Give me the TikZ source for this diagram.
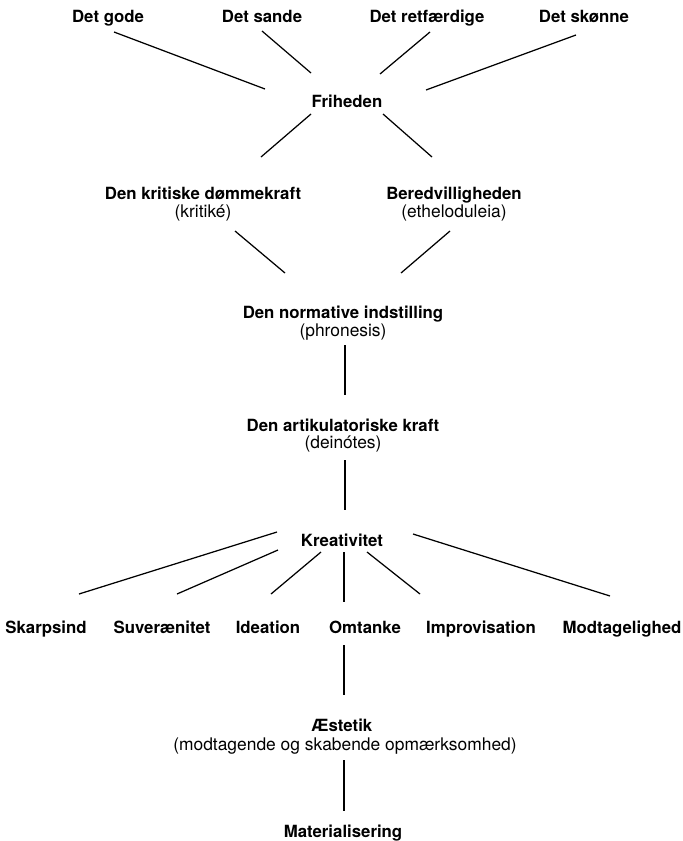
\documentclass[tikz,border=0pt]{standalone}
\usepackage{fontspec}
\setmainfont{TeX Gyre Heros}
\begin{document}
\begin{tikzpicture}[x=0.5pt,y=-0.5pt,
  lbl/.style={inner sep=0pt, anchor=base, font=\fontsize{8.4}{10}\selectfont\bfseries},
  sub/.style={inner sep=0pt, anchor=base, font=\fontsize{8.7}{10}\selectfont},
  ln/.style={line width=0.62pt, black}]
\useasboundingbox (0,0) rectangle (682,841);
% labels
\node[lbl] (gode)  at (108,22) {Det gode};
\node[lbl] (sande) at (262,22) {Det sande};
\node[lbl] (retf)  at (427,22) {Det retfærdige};
\node[lbl] (skon)  at (584,22) {Det skønne};
\node[lbl] (fri)   at (347,107) {Friheden};
\node[lbl] (krit)  at (203,199) {Den kritiske dømmekraft};
\node[sub] (kritp) at (203,217) {(kritiké)};
\node[lbl] (bered) at (454,199) {Beredvilligheden};
\node[sub] (beredp) at (454,217) {(etheloduleia)};
\node[lbl] (norm)  at (343,318) {Den normative indstilling};
\node[sub] (normp) at (343,336) {(phronesis)};
\node[lbl] (art)   at (343,431) {Den artikulatoriske kraft};
\node[sub] (artp)  at (343,448) {(deinótes)};
\node[lbl] (krea)  at (342,546) {Kreativitet};
\node[lbl] (skarp) at (46,633) {Skarpsind};
\node[lbl] (suv)   at (162,633) {Suverænitet};
\node[lbl] (idea)  at (268,633) {Ideation};
\node[lbl] (omt)   at (365,633) {Omtanke};
\node[lbl] (impro) at (481,633) {Improvisation};
\node[lbl] (modt)  at (622,633) {Modtagelighed};
\node[lbl] (aest)  at (342,731) {Æstetik};
\node[sub] (aestp) at (345,750) {(modtagende og skabende opmærksomhed)};
\node[lbl] (mat)   at (343,837) {Materialisering};
% connector end points
\coordinate (g1) at (114,32);  \coordinate (g2) at (265,89);
\coordinate (s1) at (262,31);  \coordinate (s2) at (311,73);
\coordinate (r1) at (430,32);  \coordinate (r2) at (380,74);
\coordinate (k1) at (576,35);  \coordinate (k2) at (426,90);
\coordinate (f1) at (311,114); \coordinate (f2) at (261,157);
\coordinate (f3) at (383,114); \coordinate (f4) at (432,157);
\coordinate (d1) at (235,231); \coordinate (d2) at (285,273);
\coordinate (b1) at (450,231); \coordinate (b2) at (401,273);
\coordinate (n1) at (345,345); \coordinate (n2) at (345,395);
\coordinate (a1) at (345,460); \coordinate (a2) at (345,510);
\coordinate (e1) at (277,532); \coordinate (e2) at (79,594);
\coordinate (e3) at (278,550); \coordinate (e4) at (177,594);
\coordinate (e5) at (321,552); \coordinate (e6) at (271,594);
\coordinate (e7) at (344,552); \coordinate (e8) at (344,602);
\coordinate (e9) at (367,552); \coordinate (e10) at (420,594);
\coordinate (e11) at (413,534); \coordinate (e12) at (610,596);
\coordinate (o1) at (344,645); \coordinate (o2) at (344,695);
\coordinate (m1) at (344,760); \coordinate (m2) at (344,811);
% connectors
\foreach \p/\q in {g1/g2,s1/s2,r1/r2,k1/k2,f1/f2,f3/f4,d1/d2,b1/b2,n1/n2,a1/a2,
  e1/e2,e3/e4,e5/e6,e7/e8,e9/e10,e11/e12,o1/o2,m1/m2}
  \draw[ln] (\p) -- (\q);
\end{tikzpicture}
\end{document}
